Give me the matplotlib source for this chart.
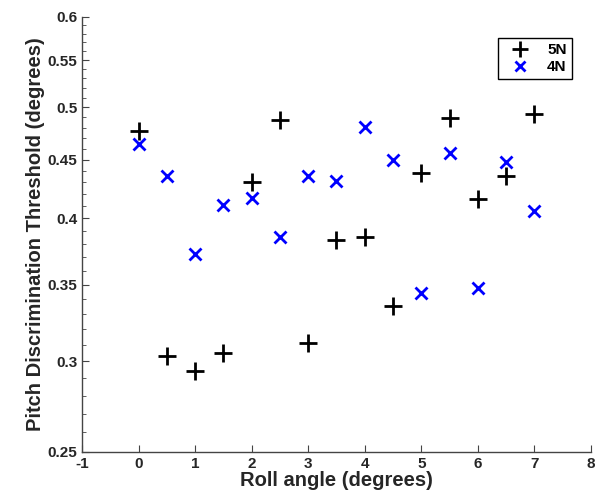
import matplotlib
matplotlib.use('Agg')
import matplotlib.pyplot as plt
from matplotlib.ticker import FixedLocator, FixedFormatter, NullFormatter
import numpy as np

# roll angles and thresholds
roll = [0, 0.5, 1, 1.5, 2, 2.5, 3, 3.5, 4, 4.5, 5, 5.5, 6, 6.5, 7]
thr_5N = [0.477, 0.303, 0.294, 0.305, 0.430, 0.488, 0.311, 0.383, 0.385,
          0.335, 0.438, 0.489, 0.416, 0.436, 0.493]
thr_4N = [0.465, 0.436, 0.372, 0.411, 0.417, 0.385, 0.436, 0.431, 0.481,
          0.450, 0.344, 0.456, 0.348, 0.448, 0.406]

yticks = [0.25, 0.3, 0.35, 0.4, 0.45, 0.5, 0.55, 0.6]
yticklabels = ['0.25', '0.3', '0.35', '0.4', '0.45', '0.5', '0.55', '0.6']

plt.rcParams['font.family'] = ['Liberation Sans', 'DejaVu Sans']
plt.rcParams['axes.unicode_minus'] = False
txt = '#262626'

fig = plt.figure(figsize=(5.95, 4.95), dpi=100)
ax = fig.add_axes([0.138, 0.087, 0.855, 0.879])

ax.plot(roll, thr_5N, '+', color='k', markersize=13, mew=2, label='5N')
ax.plot(roll, thr_4N, 'x', color='#0000ff', markersize=8, mew=2, label='4N')

ax.set_yscale('log')
ax.set_ylim(0.25, 0.6)
ax.set_xlim(-1, 8)
ax.set_xticks(range(-1, 9))
ax.yaxis.set_major_locator(FixedLocator(yticks))
ax.yaxis.set_major_formatter(FixedFormatter(yticklabels))
ax.yaxis.set_minor_locator(FixedLocator(np.arange(0.25, 0.601, 0.01)))
ax.yaxis.set_minor_formatter(NullFormatter())

for s in ['top', 'right']:
    ax.spines[s].set_visible(False)
for s in ['left', 'bottom']:
    ax.spines[s].set_color('#444444')
    ax.spines[s].set_linewidth(1.0)

ax.tick_params(which='both', direction='in', colors='#444444', labelcolor=txt,
               labelsize=11)
ax.tick_params(which='major', length=5)
ax.tick_params(which='minor', length=3)
for lab in ax.get_xticklabels() + ax.get_yticklabels():
    lab.set_fontweight('bold')

ax.set_xlabel('Roll angle (degrees)', fontsize=14.5, fontweight='bold', color=txt,
              labelpad=0)
ax.set_ylabel('Pitch Discrimination Threshold (degrees)', fontsize=14.5,
              fontweight='bold', color=txt, labelpad=2)

leg = ax.legend(loc='upper right', bbox_to_anchor=(0.978, 0.97), fancybox=False,
                framealpha=1, edgecolor='k', fontsize=11, handletextpad=0.7,
                borderpad=0.35, labelspacing=0.2, handlelength=2.2,
                markerscale=0.9)
leg.get_frame().set_linewidth(1.0)
for t in leg.get_texts():
    t.set_fontweight('bold')

fig.savefig('out.png', dpi=100)
